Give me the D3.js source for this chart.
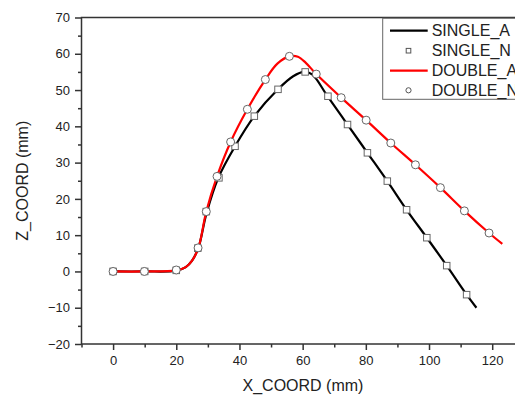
<!DOCTYPE html>
<html><head><meta charset="utf-8">
<script src="https://cdn.jsdelivr.net/npm/d3@7"></script>
<style>body{margin:0;background:#fff}svg{display:block}</style>
</head><body>
<script>
// ---- data ----
const singleA = [[0,0],[10,0],[20,0.2],[23,1.2],[25,3],[27,6.5],[29.5,15.8],[33.3,25.8],[38.6,34.5],[44.7,42.8],[52.2,50.2],[57,53.8],[60.5,55],[63,54.3],[67.8,48.4],[74.2,40.5],[80.5,32.7],[86.8,24.9],[92.9,17],[99.3,9.3],[105.6,1.6],[111.9,-6.4],[115,-10]];
const singleN = [[0,0],[10,0],[20,0.3],[26.8,6.4],[29.5,16.5],[33.5,25.8],[38.6,34.5],[44.7,42.8],[52.2,50.2],[60.8,55],[68,48.3],[74.2,40.5],[80.5,32.7],[86.8,24.9],[92.9,17],[99.3,9.3],[105.6,1.6],[111.9,-6.4]];
const doubleA = [[0,0],[10,0],[20,0.3],[23,1.2],[25,3],[27,6.5],[29.5,16.5],[32.9,26.2],[37.2,35.7],[42.5,44.7],[48.2,52.9],[52,57.3],[55.8,59.3],[58.5,59.2],[61,57.5],[64.3,54.4],[72.2,47.9],[80.1,41.7],[87.9,35.4],[95.7,29.4],[103.6,23.1],[111.2,16.7],[119,10.6],[123.2,7.6]];
const doubleN = [[0,0],[9.9,0],[20,0.4],[26.9,6.5],[29.5,16.5],[32.9,26.2],[37.2,35.7],[42.5,44.7],[48.2,52.9],[55.8,59.3],[64.3,54.4],[72.2,47.9],[80.1,41.7],[87.9,35.4],[95.7,29.4],[103.6,23.1],[111.2,16.7],[119,10.6]];
const xTicks = [0,20,40,60,80,100,120];
const yTicks = [-20,-10,0,10,20,30,40,50,60,70];
const legendNames = ["SINGLE_A","SINGLE_N","DOUBLE_A","DOUBLE_N"];
const xLabel = "X_COORD (mm)", yLabel = "Z_COORD (mm)";

const W=515,H=396;
const svg=d3.select("body").append("svg").attr("width",W).attr("height",H);
const x=d3.scaleLinear().domain([-10,130]).range([81.5,523.8]);
const y=d3.scaleLinear().domain([-20,70]).range([344,17.5]);
const axisCol="#333", txtCol="#222", font="Arial, 'Liberation Sans', sans-serif";

// frame
svg.append("rect").attr("x",x(-10)).attr("y",y(70)).attr("width",x(130)-x(-10)).attr("height",y(-20)-y(70))
  .attr("fill","none").attr("stroke",axisCol).attr("stroke-width",1.5);

// x axis
const gx=svg.append("g").attr("transform",`translate(0,${y(-20)})`)
  .call(d3.axisBottom(x).tickValues(d3.range(-10,131,10).filter(v=>!xTicks.includes(v))).tickSize(3.5).tickFormat(""));
const gx2=svg.append("g").attr("transform",`translate(0,${y(-20)})`)
  .call(d3.axisBottom(x).tickValues(xTicks).tickSize(6).tickPadding(6));
[gx,gx2].forEach(g=>{g.select(".domain").remove();g.selectAll("line").attr("stroke",axisCol).attr("stroke-width",1.5);});
gx2.selectAll("text").attr("font-family",font).attr("font-size",13).attr("fill",txtCol);

// y axis
const gy=svg.append("g").attr("transform",`translate(${x(-10)},0)`)
  .call(d3.axisLeft(y).tickValues(d3.range(-15,70,10)).tickSize(3.5).tickFormat(""));
const gy2=svg.append("g").attr("transform",`translate(${x(-10)},0)`)
  .call(d3.axisLeft(y).tickValues(yTicks).tickSize(6.5).tickPadding(5));
[gy,gy2].forEach(g=>{g.select(".domain").remove();g.selectAll("line").attr("stroke",axisCol).attr("stroke-width",1.5);});
gy2.selectAll("text").attr("font-family",font).attr("font-size",13).attr("fill",txtCol);

// axis labels
svg.append("text").attr("x",303).attr("y",391).attr("text-anchor","middle")
  .attr("font-family",font).attr("font-size",16).attr("fill",txtCol).text(xLabel);
svg.append("text").attr("transform",`translate(28,${y(25)}) rotate(-90)`).attr("text-anchor","middle")
  .attr("font-family",font).attr("font-size",16).attr("fill",txtCol).text(yLabel);

// lines
const line=d3.line().x(d=>x(d[0])).y(d=>y(d[1])).curve(d3.curveCatmullRom.alpha(0.5));
svg.append("path").datum(singleA).attr("d",line).attr("fill","none").attr("stroke","#000").attr("stroke-width",2.2);
svg.append("path").datum(doubleA).attr("d",line).attr("fill","none").attr("stroke","#ff0000").attr("stroke-width",2.2);

// markers
const sq=6.5;
svg.append("g").selectAll("rect").data(singleN).join("rect")
  .attr("x",d=>x(d[0])-sq/2).attr("y",d=>y(d[1])-sq/2).attr("width",sq).attr("height",sq)
  .attr("fill","#fff").attr("stroke","#666").attr("stroke-width",1);
svg.append("g").selectAll("circle").data(doubleN).join("circle")
  .attr("cx",d=>x(d[0])).attr("cy",d=>y(d[1])).attr("r",4)
  .attr("fill","#fff").attr("stroke","#666").attr("stroke-width",1);

// legend
const lg=svg.append("g");
lg.append("rect").attr("x",382.7).attr("y",18.3).attr("width",160).attr("height",81)
  .attr("fill","#fff").attr("stroke","#666").attr("stroke-width",1);
const rowY=[30.7,50.7,70.7,90.3];
legendNames.forEach((n,i)=>{
  const yy=rowY[i];
  if(i===0||i===2){
    lg.append("line").attr("x1",390).attr("x2",427.7).attr("y1",yy).attr("y2",yy)
      .attr("stroke",i===0?"#000":"#ff0000").attr("stroke-width",2.2);
  } else if(i===1){
    lg.append("rect").attr("x",408.5-2.3).attr("y",yy-2.3).attr("width",4.6).attr("height",4.6)
      .attr("fill","#fff").attr("stroke","#555").attr("stroke-width",1);
  } else {
    lg.append("circle").attr("cx",408.5).attr("cy",yy).attr("r",2.6)
      .attr("fill","#fff").attr("stroke","#555").attr("stroke-width",1);
  }
  lg.append("text").attr("x",431.7).attr("y",yy+5.7).attr("font-family",font).attr("font-size",16)
    .attr("fill",txtCol).text(n);
});
</script>
</body></html>
